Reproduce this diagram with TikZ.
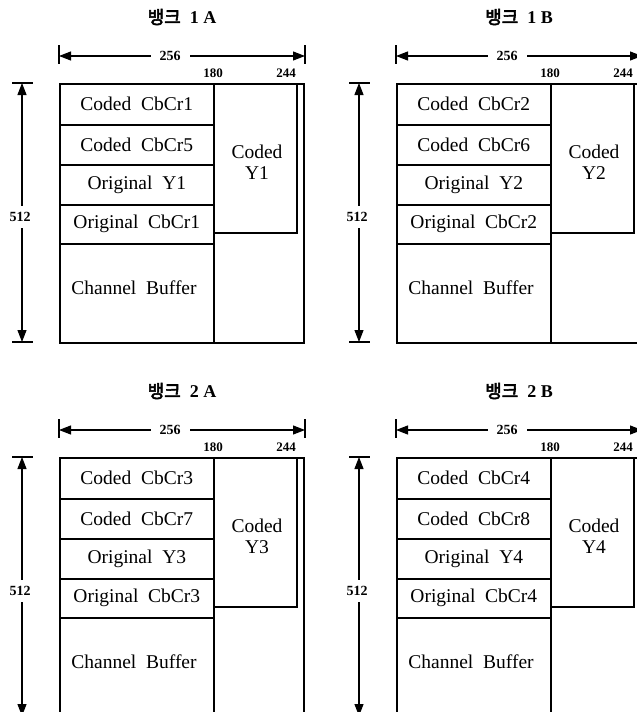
\documentclass[tikz,border=0pt]{standalone}
\usepackage{fontspec}
\setmainfont{Liberation Serif}
\newfontfamily\cjkb[FakeBold=3]{Noto Sans CJK KR}
\usetikzlibrary{arrows.meta}
\tikzset{
  box/.style={draw, line width=1.6pt, anchor=north west, inner sep=0pt},
  cell/.style={box, minimum width=154pt, font=\fontsize{19.5}{22}\selectfont},
  celltext/.style={font=\fontsize{19.5}{22}\selectfont, align=center, inner sep=0pt},
  dimline/.style={line width=1.1pt},
  dimarrow/.style={line width=1.1pt, {Triangle[length=12pt,width=9pt]}-{Triangle[length=12pt,width=9pt]}},
  dimlabel/.style={fill=white, inner xsep=9pt, inner ysep=3pt, font=\fontsize{14}{16}\selectfont\bfseries},
  toplabel/.style={inner sep=0pt, font=\fontsize{13}{15}\selectfont\bfseries},
  titlelabel/.style={inner sep=0pt, font=\fontsize{18}{20}\selectfont}
}
\newcommand\bankpanel[6]{%
  \begin{scope}[shift={(#2,#3)}]
    \node[titlelabel] (#1t) at (182,17) {{\cjkb 뱅크}\ \ \textbf{#4}};
    % horizontal dimension
    \coordinate (#1hl) at (59,56);
    \coordinate (#1hr) at (305,56);
    \draw[dimline] (59,45) -- (59,64);
    \draw[dimline] (305,45) -- (305,64);
    \draw[dimarrow] (#1hl) -- (#1hr);
    \node[dimlabel] (#1w) at (170,56) {256};
    \node[toplabel] (#1a) at (213,73) {180};
    \node[toplabel] (#1b) at (286,73) {244};
    % vertical dimension
    \coordinate (#1vt) at (22,83);
    \coordinate (#1vb) at (22,342);
    \draw[dimline] (12,83) -- (33,83);
    \draw[dimline] (12,342) -- (33,342);
    \draw[dimarrow] (#1vt) -- (#1vb);
    \node[dimlabel, inner xsep=2pt, inner ysep=6pt] (#1h) at (20,217) {512};
    % memory map
    \node[box, minimum width=244pt, minimum height=259pt] (#1frame) at (59,83) {};
    \node[cell, minimum height=41pt] (#1r1) at (59,83) {Coded\ \ CbCr#5};
    \node[cell, minimum height=40pt] (#1r2) at (59,124) {Coded\ \ CbCr#6};
    \node[cell, minimum height=40pt] (#1r3) at (59,164) {Original\ \ Y#5};
    \node[cell, minimum height=39pt] (#1r4) at (59,204) {Original\ \ CbCr#5};
    \node[box, minimum width=154pt, minimum height=99pt] (#1r5) at (59,243) {};
    \node[celltext] (#1r5t) at (134,288) {Channel\ \ Buffer};
    \node[box, minimum width=83pt, minimum height=149pt] (#1y) at (213,83) {};
    \node[celltext] (#1yt) at (257,162) {Coded\\[-1pt]Y#5};
  \end{scope}
}
\begin{document}
\begin{tikzpicture}[x=1pt,y=-1pt]
  \useasboundingbox (0,0) rectangle (637,712);
  \clip (0,0) rectangle (637,712);
  \fill[white] (0,0) rectangle (637,712);
  \bankpanel{pA}{0}{0}{1 A}{1}{5}
  \bankpanel{pB}{337}{0}{1 B}{2}{6}
  \bankpanel{pC}{0}{374}{2 A}{3}{7}
  \bankpanel{pD}{337}{374}{2 B}{4}{8}
\end{tikzpicture}
\end{document}
